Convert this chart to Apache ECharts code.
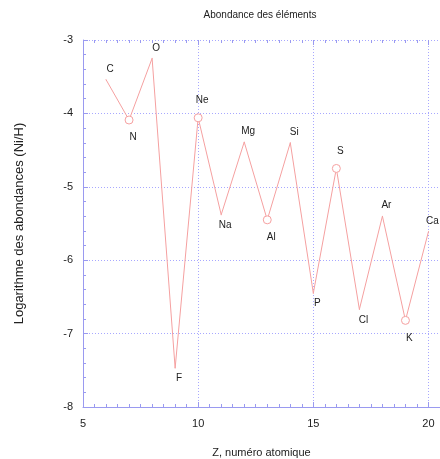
<!DOCTYPE html>
<html><head><meta charset="utf-8">
<script src="https://cdn.jsdelivr.net/npm/echarts@6/dist/echarts.min.js"></script>
<style>html,body{margin:0;padding:0;background:#fff}#c{width:440px;height:459px}</style>
</head><body><div id="c"></div>
<script>
var elements = ['C','N','O','F','Ne','Na','Mg','Al','Si','P','S','Cl','Ar','K','Ca'];
var atomicNumbers = [6,7,8,9,10,11,12,13,14,15,16,17,18,19,20];
var logAbundance = [-3.54,-4.09,-3.25,-7.47,-4.06,-5.38,-4.39,-5.45,-4.40,-6.45,-4.75,-6.67,-5.40,-6.82,-5.61];
var circled = ['N','Ne','Al','S','K'];
var xTicks = [5,10,15,20];
var yTicks = [-3,-4,-5,-6,-7,-8];

var chart = echarts.init(document.getElementById('c'), null, {renderer:'canvas'});
var blue = '#9a9af0';
var gridBlue = '#a8a8ff';
var pink = '#f5a0a0';
var font = 'Liberation Sans, Arial, sans-serif';

var data = atomicNumbers.map(function(z, i){
  var v = logAbundance[i];
  var prev = i > 0 ? logAbundance[i-1] : -Infinity;
  var next = i < logAbundance.length-1 ? logAbundance[i+1] : -Infinity;
  var isMax = v > prev && v > next;
  var circ = circled.indexOf(elements[i]) >= 0;
  return {
    value:[z, v], name: elements[i],
    symbol: 'circle',
    symbolSize: circ ? 8 : 1,
    itemStyle: circ ? {color:'#fff', borderColor:pink, borderWidth:1} : {color:pink, borderColor:pink, borderWidth:0},
    label:{show:true, formatter: elements[i], position: isMax ? 'top' : 'bottom', distance: circ ? 8 : 5, offset:[4,0]}
  };
});

chart.setOption({
  animation:false,
  title:{text:'Abondance des éléments', left:255, top:5, textAlign:'center',
    textStyle:{fontSize:10, fontWeight:'normal', color:'#222', fontFamily:font}},
  grid:{left:83, right:0, top:40, bottom:52, containLabel:false, outerBoundsMode:'none'},
  xAxis:[{
    type:'value', min:5, max:20.5, interval:5,
    name:'Z, numéro atomique', nameLocation:'middle', nameGap:40,
    nameTextStyle:{fontSize:11, color:'#222', fontFamily:font},
    axisLine:{show:true, lineStyle:{color:blue, width:1}},
    axisTick:{show:true, inside:true, length:5, lineStyle:{color:blue}},
    minorTick:{show:true, splitNumber:10, length:3, lineStyle:{color:blue}},
    axisLabel:{fontSize:11, color:'#222', fontFamily:font, margin:11,
      formatter:function(v){return xTicks.indexOf(v)>=0 ? String(v) : '';}},
    splitLine:{show:true, lineStyle:{color:gridBlue, type:[1,2], width:1}}
  },{
    type:'value', position:'top', min:5, max:20.5, interval:5,
    axisLine:{show:false},
    axisTick:{show:true, inside:true, length:5, lineStyle:{color:blue}},
    minorTick:{show:true, splitNumber:10, length:3, lineStyle:{color:blue}},
    axisLabel:{show:false}, splitLine:{show:false}
  }],
  yAxis:{
    type:'value', min:-8, max:-3, interval:1,
    name:'Logarithme des abondances (Ni/H)', nameLocation:'middle', nameGap:57,
    nameTextStyle:{fontSize:13, color:'#222', fontFamily:font},
    axisLine:{show:true, lineStyle:{color:blue, width:1}},
    axisTick:{show:true, inside:true, length:5, lineStyle:{color:blue}},
    minorTick:{show:true, splitNumber:5, length:3, lineStyle:{color:blue}},
    axisLabel:{fontSize:11, color:'#222', fontFamily:font, margin:10,
      formatter:function(v){return yTicks.indexOf(v)>=0 ? String(v) : '';}},
    splitLine:{show:true, lineStyle:{color:gridBlue, type:[1,2], width:1}}
  },
  series:[{
    type:'line', xAxisIndex:0, data:data,
    lineStyle:{color:pink, width:1},
    showAllSymbol:true,
    label:{fontSize:10, color:'#222', fontFamily:font}
  }]
});
</script></body></html>
